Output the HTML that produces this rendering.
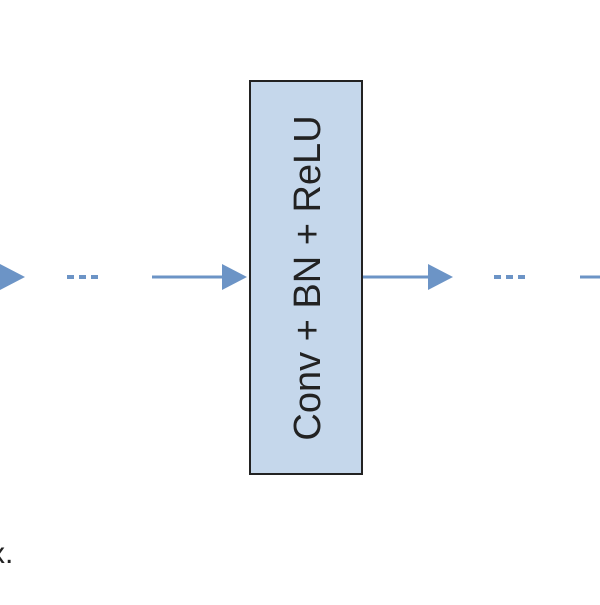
<!DOCTYPE html>
<html><head><style>body{margin:0;background:#fff;}</style></head><body>
<svg width="600" height="600" xmlns="http://www.w3.org/2000/svg">
<g fill="#6c94c6" stroke="#6c94c6">
<polygon points="0,264 25,277 0,290" stroke="none"/>
<line x1="67" y1="277" x2="101" y2="277" stroke-width="4" stroke-dasharray="7,5"/>
<line x1="152" y1="277" x2="226" y2="277" stroke-width="3"/>
<polygon points="222,264 247,277 222,290" stroke="none"/>
<line x1="362" y1="277" x2="432" y2="277" stroke-width="3"/>
<polygon points="428,264 453,277 428,290" stroke="none"/>
<line x1="494" y1="277" x2="528" y2="277" stroke-width="4" stroke-dasharray="7,5"/>
<line x1="580" y1="277" x2="600" y2="277" stroke-width="3"/>
</g>
<rect x="250" y="81" width="112" height="393" fill="#c5d7eb" stroke="#222" stroke-width="2"/>
<text x="0" y="0" transform="translate(320,278) rotate(-90)" text-anchor="middle" font-family="Liberation Sans, sans-serif" font-size="38" fill="#222">Conv + BN + ReLU</text>
<text x="-10" y="563" font-family="Liberation Sans, sans-serif" font-size="30" fill="#222">x.</text>
</svg>
</body></html>
